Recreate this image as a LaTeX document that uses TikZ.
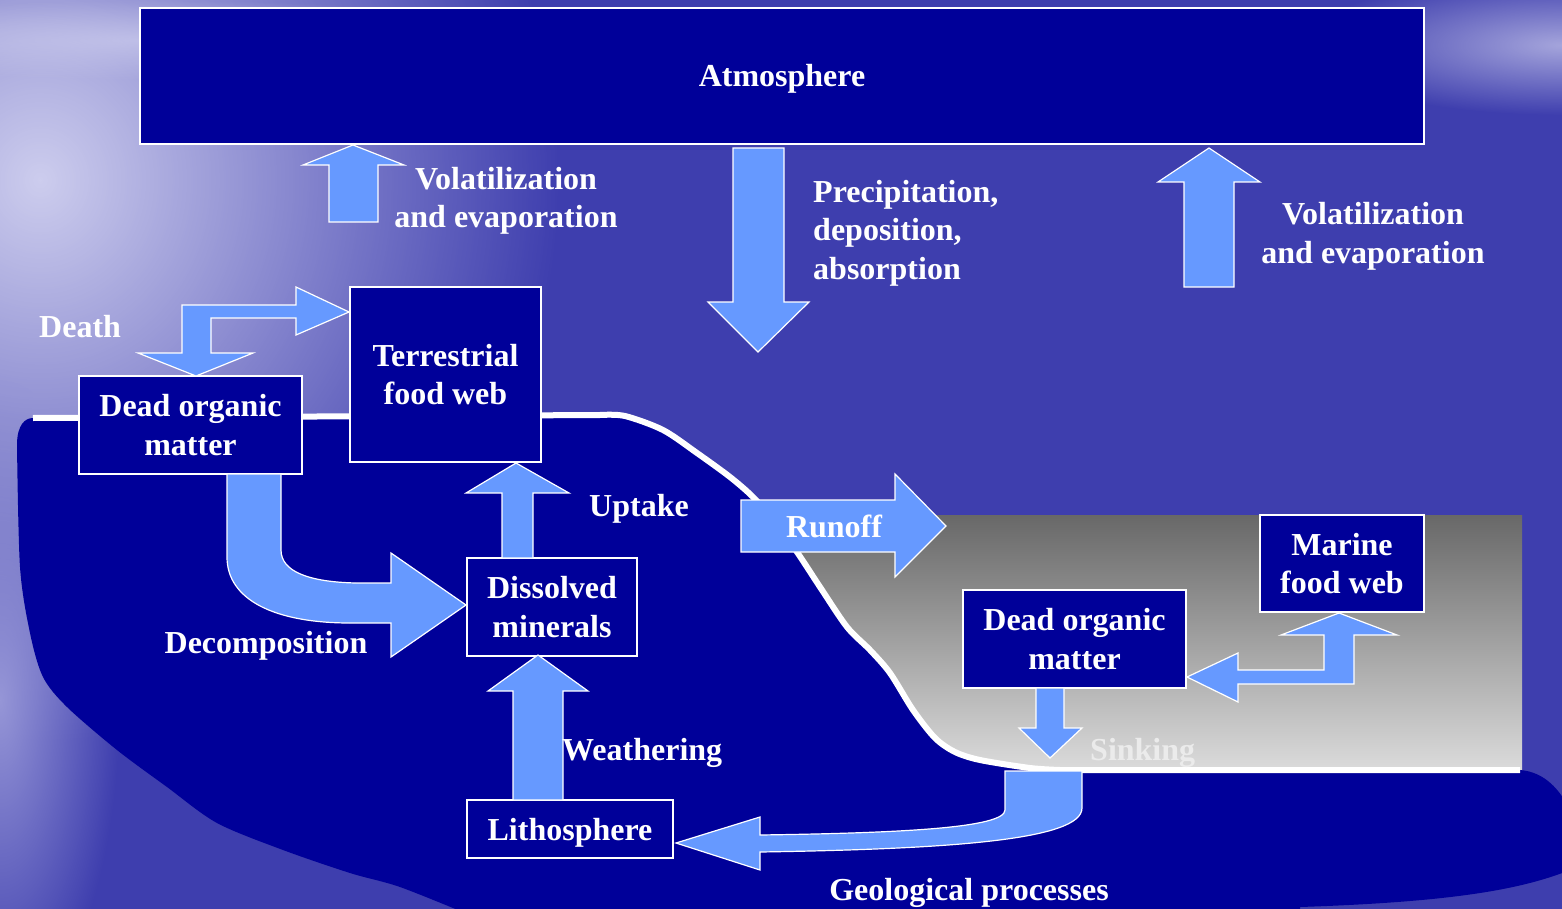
\documentclass[tikz,border=0pt]{standalone}
\usepackage{fontspec}
\setmainfont{Liberation Serif}
\usetikzlibrary{calc,fadings}
\definecolor{landcol}{RGB}{0,0,153}
\definecolor{arrowcol}{RGB}{102,153,255}
\definecolor{bgBase}{RGB}{62,62,174}
\definecolor{glowA}{RGB}{205,205,238}
\definecolor{glowB}{RGB}{165,165,220}
\definecolor{glowC}{RGB}{150,150,215}
\definecolor{seatop}{RGB}{104,104,104}
\definecolor{seabot}{RGB}{220,220,220}
\tikzfading[name=softglow, inner color=transparent!0, outer color=transparent!100]
\tikzset{
  lbl/.style={text=white,font=\fontsize{32}{38.5}\selectfont\bfseries,inner sep=0pt},
  onel/.style={text height=22pt,text depth=0pt},
  multil/.style={yshift=-4pt},
  boxnode/.style={draw=white,line width=2pt,fill=landcol,text=white,
    font=\fontsize{32}{38.5}\selectfont\bfseries,align=center,inner sep=0pt},
  blockarrow/.style={fill=arrowcol,draw=white,line width=1.2pt,line join=miter},
}
\begin{document}
\begin{tikzpicture}[x=1pt,y=-1pt]
\useasboundingbox (0,0) rectangle (1562,909);
\clip (0,0) rectangle (1562,909);
% background
\fill[bgBase] (0,0) rectangle (1562,909);
\fill[glowA,path fading=softglow] (40,180) ellipse [x radius=520,y radius=560];
\fill[glowA,path fading=softglow,fill opacity=0.7] (150,40) ellipse [x radius=400,y radius=40];
\fill[glowB,path fading=softglow] (1562,45) ellipse [x radius=260,y radius=70];
\fill[glowC,path fading=softglow] (0,700) ellipse [x radius=120,y radius=320];
% sea
\shade[top color=seatop,bottom color=seabot] (760,515) rectangle (1522,772);
% land
\fill[landcol] (33,418) -- (600,415)
  -- plot[smooth] coordinates {(600,415) (625,416) (663,430) (697,453) (730,477) (753,497) (775,522) (797,552) (820,587) (847,627) (870,650) (890,673) (913,710) (935,738) (955,752) (980,760) (1030,768) (1060,770)}
  -- (1520,770) .. controls (1545,772) and (1560,790) .. (1570,810)
  -- (1570,870) .. controls (1520,890) and (1450,902) .. (1300,907)
  -- (1300,940) -- (470,940)
  -- plot[smooth] coordinates {(470,915) (400,887) (350,873) (283,850) (217,823) (167,787) (117,750) (67,707) (43,677) (30,633) (20,567) (17,445)}
  .. controls (17,425) and (25,418) .. (33,418) -- cycle;
% coast line
\draw[white,line width=6pt,line join=round] (33,418) -- (600,415)
  -- plot[smooth] coordinates {(600,415) (625,416) (663,430) (697,453) (730,477) (753,497) (775,522) (797,552) (820,587) (847,627) (870,650) (890,673) (913,710) (935,738) (955,752) (980,760) (1030,768) (1060,770)}
  -- (1520,770);
% boxes
\node[boxnode,onel,minimum width=1284pt,minimum height=136pt] (atm) at (782,76) {Atmosphere};
\node[boxnode,minimum width=191pt,minimum height=175pt] (tfw) at (445.5,374.5) {Terrestrial\\food web};
\node[boxnode,minimum width=223pt,minimum height=98pt] (domL) at (190.5,425) {Dead organic\\matter};
\node[boxnode,minimum width=170pt,minimum height=98pt] (dm) at (552,607) {Dissolved\\minerals};
\node[boxnode,onel,minimum width=206pt,minimum height=58pt] (lith) at (570,829) {Lithosphere};
\node[boxnode,minimum width=164pt,minimum height=97pt] (mfw) at (1342,563.5) {Marine\\food web};
\node[boxnode,minimum width=223pt,minimum height=98pt] (domR) at (1074.5,639) {Dead organic\\matter};
% arrows
% volatilization left (up)
\draw[blockarrow] (329,222) -- (329,165) -- (303,165) -- (353,145) -- (404,165) -- (378,165) -- (378,222) -- cycle;
% precipitation (down)
\draw[blockarrow] (733,148) -- (733,302) -- (708,302) -- (758,352) -- (809,302) -- (784,302) -- (784,148) -- cycle;
% volatilization right (up)
\draw[blockarrow] (1184,287) -- (1184,182) -- (1158,182) -- (1209,148) -- (1260,182) -- (1234,182) -- (1234,287) -- cycle;
% death
\draw[blockarrow] (182,305) -- (296,305) -- (296,287) -- (349,312) -- (296,335) -- (296,318) -- (211,318) -- (211,353) -- (253,353) -- (196,376) -- (138,353) -- (182,353) -- cycle;
% uptake
\draw[blockarrow] (502,558) -- (502,493) -- (466,493) -- (516,463) -- (569,493) -- (533,493) -- (533,558) -- cycle;
% decomposition
\draw[blockarrow] (227,474) -- (227,557) .. controls (227,600) and (275,623) .. (350,623) -- (391,623) -- (391,657) -- (466,605) -- (391,553) -- (391,583) -- (356,583) .. controls (310,582) and (281,572) .. (281,550) -- (281,474) -- cycle;
% weathering
\draw[blockarrow] (513,800) -- (513,691) -- (488,691) -- (538,655) -- (588,691) -- (563,691) -- (563,800) -- cycle;
% runoff
\draw[blockarrow] (741,500) -- (895,500) -- (895,474) -- (946,526) -- (895,577) -- (895,552) -- (741,552) -- cycle;
% marine bent arrow
\draw[blockarrow] (1187,677) -- (1238,653) -- (1238,670) -- (1324,670) -- (1324,635) -- (1281,635) -- (1339,613) -- (1397,635) -- (1354,635) -- (1354,684) -- (1238,684) -- (1238,702) -- cycle;
% sinking
\draw[blockarrow] (1036,688) -- (1036,728) -- (1019,728) -- (1050,758) -- (1082,728) -- (1064,728) -- (1064,688) -- cycle;
% geological
\draw[blockarrow] (1005,771) -- (1005,810) .. controls (1005,828) and (900,833) .. (760,835) -- (760,817) -- (676,843) -- (760,870) -- (760,852) .. controls (950,849) and (1082,840) .. (1082,808) -- (1082,771) -- cycle;
% labels
\node[lbl,multil,align=center] (lvolL) at (506,197) {Volatilization\\and evaporation};
\node[lbl,multil,align=left,anchor=west] (lprec) at (813,229) {Precipitation,\\deposition,\\absorption};
\node[lbl,multil,align=center] (lvolR) at (1373,232.5) {Volatilization\\and evaporation};
\node[lbl,onel,anchor=west] (ldeath) at (39,326) {Death};
\node[lbl,onel,anchor=west] (luptake) at (589,505) {Uptake};
\node[lbl,onel] (lrunoff) at (834,526) {Runoff};
\node[lbl,onel] (ldecomp) at (266,642) {Decomposition};
\node[lbl,onel,anchor=west] (lweath) at (562,749) {Weathering};
\node[lbl,onel,anchor=west,text=white!92!black] (lsink) at (1090,749) {Sinking};
\node[lbl,onel] (lgeo) at (969,889) {Geological processes};
\end{tikzpicture}
\end{document}
